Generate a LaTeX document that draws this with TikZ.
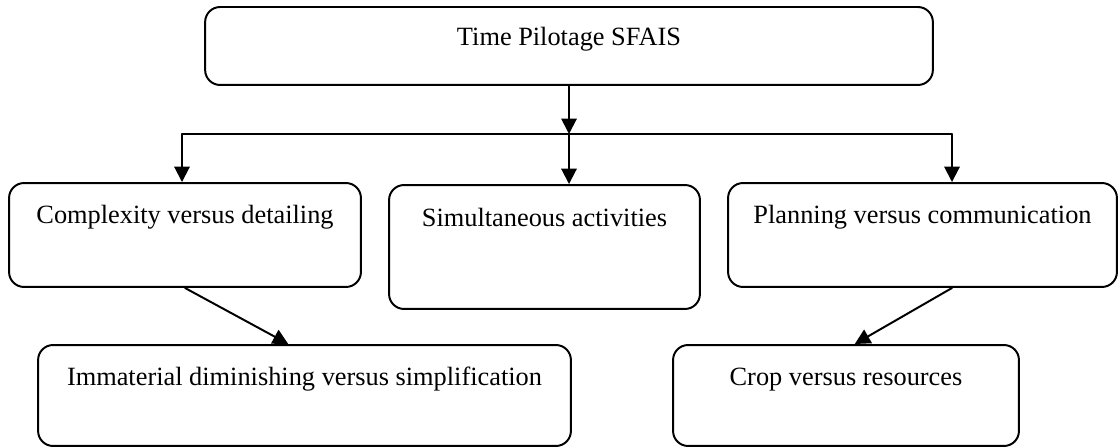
\documentclass[tikz,border=0pt]{standalone}
\usepackage{fontspec}
\setmainfont{Liberation Serif}
\usepackage{tikz}
\usetikzlibrary{arrows}
\usetikzlibrary{arrows.meta,calc}

\begin{document}
\begin{tikzpicture}[line cap=round,line join=round,>={Triangle[width=7pt,length=7pt]},x=0.016cm,y=-0.016cm,
        box/.style={draw,rounded corners=0.24cm,line width=0.9pt,inner sep=0pt},
        txt/.style={anchor=base,inner sep=0pt,font=\fontsize{12}{14}\selectfont},
        conn/.style={line width=0.9pt}]
                \useasboundingbox (0,0) rectangle (1119,448);
                \node[box,minimum width=11.648cm,minimum height=1.248cm] (top) at (569,46) {};
                \node[box,minimum width=5.632cm,minimum height=1.664cm] (cvd) at (185,235) {};
                \node[box,minimum width=4.976cm,minimum height=1.984cm] (sim) at (544.5,247) {};
                \node[box,minimum width=6.224cm,minimum height=1.664cm] (pvc) at (922.5,235) {};
                \node[box,minimum width=8.528cm,minimum height=1.616cm] (imm) at (304.5,395.5) {};
                \node[box,minimum width=5.536cm,minimum height=1.616cm] (crop) at (846,395.5) {};
                \node[txt] (topt) at (569,46) {Time Pilotage SFAIS};
                \node[txt] (cvdt) at (185,224) {Complexity versus detailing};
                \node[txt] (simt) at (544.5,227) {Simultaneous activities};
                \node[txt] (pvct) at (922.5,224) {Planning versus communication};
                \node[txt] (immt) at (304.5,385) {Immaterial diminishing versus simplification};
                \node[txt] (cropt) at (846,385) {Crop versus resources};
                \coordinate (busl) at (182,134);
                \coordinate (busc) at (569,134);
                \coordinate (busr) at (952,134);
                \draw [line width=0.6pt] (busl)-- (busr);
                \draw [conn,->] (top.south)-- (busc);
                \draw [conn,->] (busl)-- (busl |- cvd.north);
                \draw [conn,->] (busc)-- (busc |- sim.north);
                \draw [conn,->] (busr)-- (busr |- pvc.north);
                \draw [conn,->] (cvd.south)-- ([xshift=-0.26cm]imm.north);
                \draw [conn,->] (busr |- pvc.south)-- ([xshift=0.14cm]crop.north);
            \end{tikzpicture}
\end{document}
